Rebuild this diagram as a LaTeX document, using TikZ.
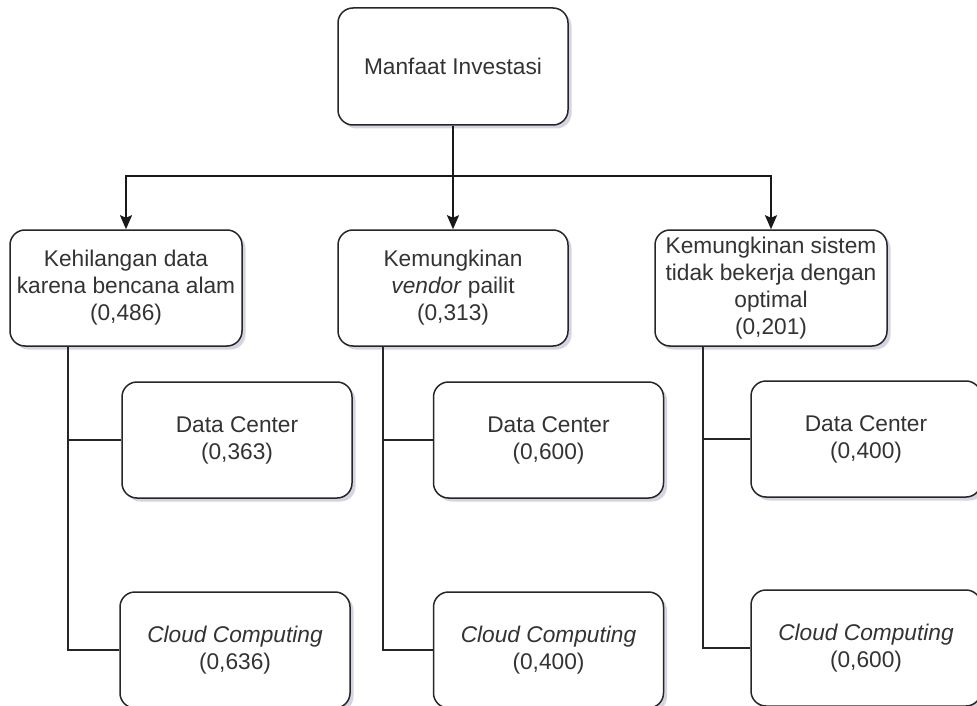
\documentclass[tikz,border=0pt]{standalone}
\usepackage{fontspec}
\setmainfont{Liberation Sans}
\usetikzlibrary{arrows.meta,shadows}
\begin{document}
\begin{tikzpicture}[x=1pt,y=-1pt,
  box/.style={draw=black!85, line width=1.5pt, rounded corners=15pt, fill=white,
    minimum width=230pt, minimum height=116pt, inner sep=0pt, align=center,
    text=black!80, font=\fontsize{22.7}{27}\selectfont,
    drop shadow={shadow xshift=3.5pt, shadow yshift=-3.5pt, opacity=0.4, fill=blue!20!gray!70}},
  arr/.style={draw=black!90, line width=1.9pt, -{Stealth[inset=2.5pt,width=12pt,length=14pt]}},
  con/.style={draw=black!85, line width=1.4pt}]
\clip (0,0) rectangle (977,706);
\fill[white] (0,0) rectangle (977,706);
% top
\node[box, minimum height=117pt] (m) at (453,66.5) {Manfaat Investasi};
% level 1
\node[box, minimum width=232pt] (k1) at (126,288) {Kehilangan data\\karena bencana alam\\(0,486)};
\node[box] (k2) at (453,288) {Kemungkinan\\\textit{vendor} pailit\\(0,313)};
\node[box, minimum width=232pt] (k3) at (771,288) {Kemungkinan sistem\\tidak bekerja dengan\\optimal\\(0,201)};
% level 2
\node[box] (dc1) at (237,440) {Data Center\\(0,363)};
\node[box] (cc1) at (235,650) {\textit{Cloud Computing}\\(0,636)};
\node[box] (dc2) at (548.5,440) {Data Center\\(0,600)};
\node[box] (cc2) at (548.5,650) {\textit{Cloud Computing}\\(0,400)};
\node[box] (dc3) at (866,439) {Data Center\\(0,400)};
\node[box] (cc3) at (866,648) {\textit{Cloud Computing}\\(0,600)};
% top connectors
\coordinate (bus) at (453,176);
\draw[con, line width=1.8pt] (k1.north |- bus) -- (k3.north |- bus);
\draw[arr] (m.south) -- (k2.north);
\draw[arr] (bus) -| (k1.north);
\draw[arr] (bus) -| (k3.north);
% lower connectors
\coordinate (j1) at (68,346);
\coordinate (j2) at (383,346);
\coordinate (j3) at (703,346);
\draw[con] (j1) |- (cc1.west);
\draw[con] (dc1.west) -- (j1 |- dc1.west);
\draw[con] (j2) |- (cc2.west);
\draw[con] (dc2.west) -- (j2 |- dc2.west);
\draw[con] (j3) |- (cc3.west);
\draw[con] (dc3.west) -- (j3 |- dc3.west);
\end{tikzpicture}
\end{document}
